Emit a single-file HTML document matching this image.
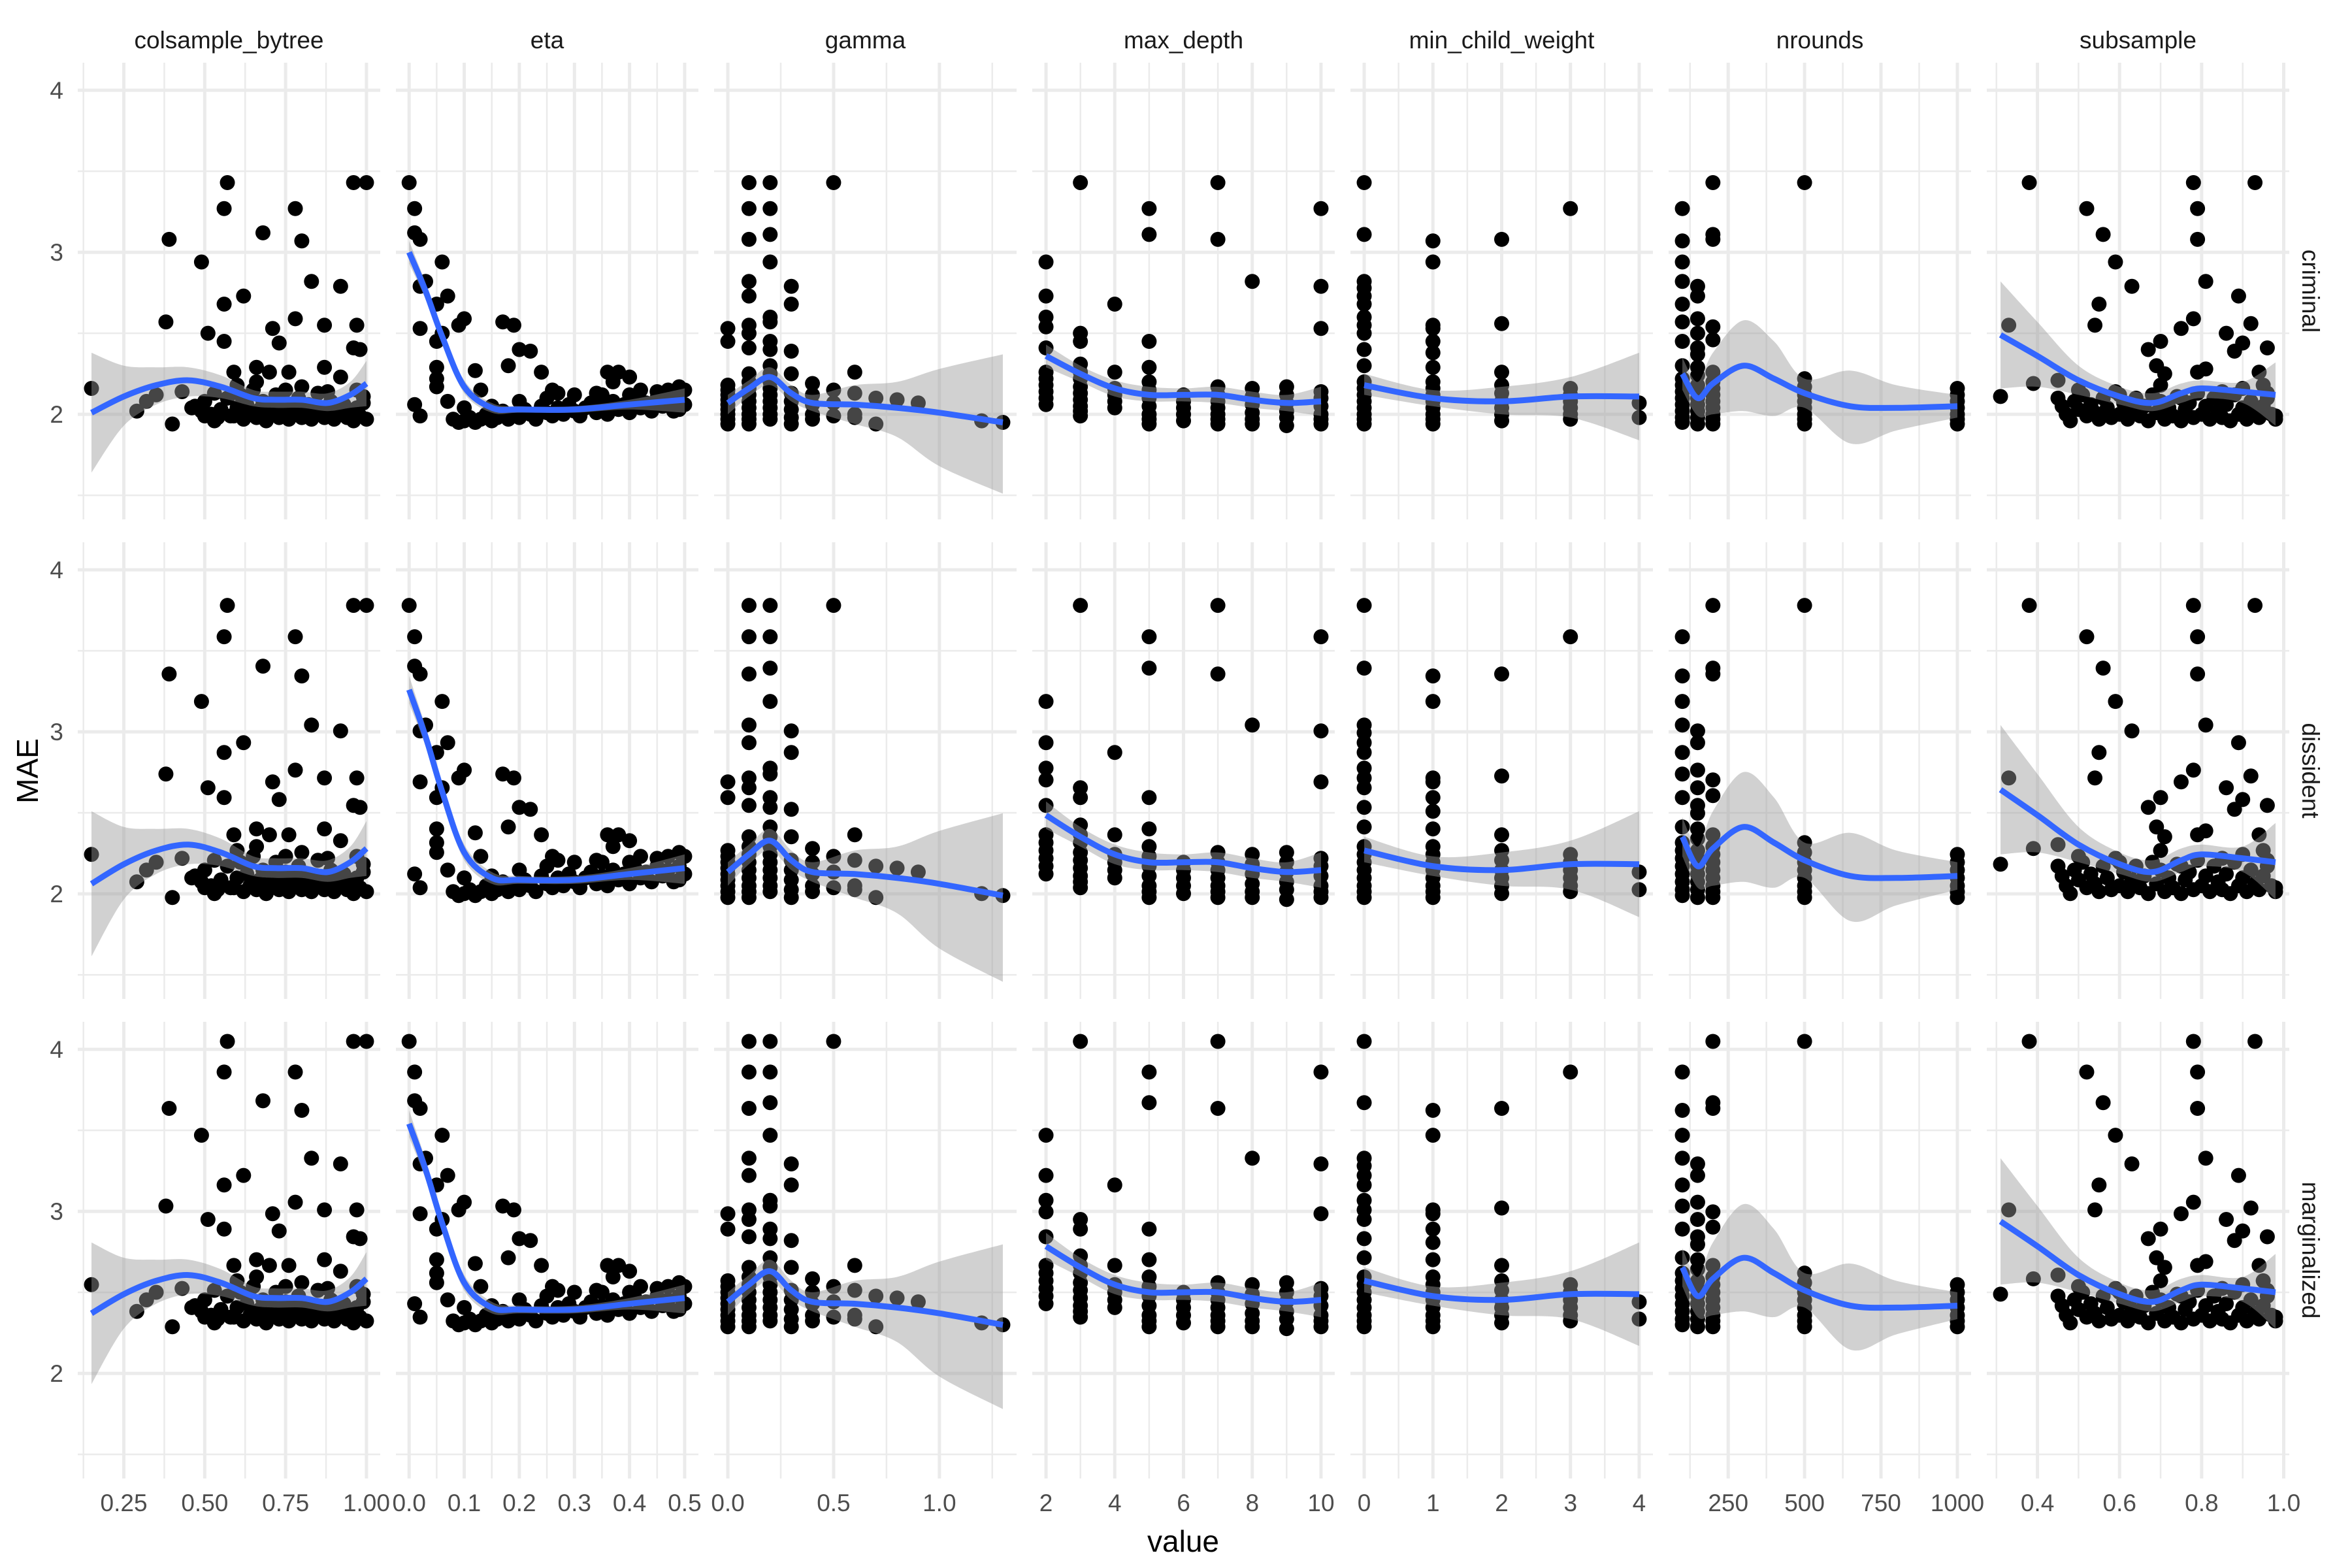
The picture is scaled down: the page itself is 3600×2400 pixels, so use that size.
<!DOCTYPE html>
<html><head><meta charset="utf-8"><style>
html,body{margin:0;padding:0;background:#fff}
svg{display:block}
text{font-family:"Liberation Sans",Arial,sans-serif}
</style></head><body>
<svg id="chart" width="3600" height="2400" viewBox="0 0 3600 2400" xmlns="http://www.w3.org/2000/svg">
<rect width="3600" height="2400" fill="#fff"/>
<g id="grid"></g><g id="pts"></g><g id="smooth"></g><g id="labels"></g>
<text x="1811" y="2375" font-size="46" text-anchor="middle" fill="#000">value</text>
<text x="0" y="0" font-size="46" text-anchor="middle" fill="#000" transform="translate(58,1180) rotate(-90)">MAE</text>
</svg>
<script>
const params = ["colsample_bytree","eta","gamma","max_depth","min_child_weight","nrounds","subsample"];
const rows = ["criminal","dissident","marginalized"];
const rowScale = [1, 1.21, 1.182];
const rowShift = [0, -0.37, -0.005];
const xDomains = [[0.15,1.0],[0.001,0.5],[0,1.3],[2,10],[0,4],[100,1000],[0.31,0.98]];
const majorTicks = [[0.25,0.5,0.75,1.0],[0,0.1,0.2,0.3,0.4,0.5],[0,0.5,1.0],[2,4,6,8,10],[0,1,2,3,4],[250,500,750,1000],[0.4,0.6,0.8,1.0]];
const tickLabels = [["0.25","0.50","0.75","1.00"],["0.0","0.1","0.2","0.3","0.4","0.5"],["0.0","0.5","1.0"],["2","4","6","8","10"],["0","1","2","3","4"],["250","500","750","1000"],["0.4","0.6","0.8","1.0"]];
const minorTicks = [[0.125,0.375,0.625,0.875],[0.05,0.15,0.25,0.35,0.45],[0.25,0.75,1.25],[3,5,7,9],[0.5,1.5,2.5,3.5],[125,375,625,875],[0.3,0.5,0.7,0.9]];
const yMajor = [2,3,4];
const yMinor = [1.5,2.5,3.5];

// scatter points (criminal-row MAE) per parameter
const ptsColsample = [[.15,2.16],[.39,3.08],[.38,2.57],[.29,2.02],[.32,2.08],[.35,2.12],[.40,1.94],[.43,2.14],[.49,2.94],[.51,2.5],[.46,2.04],[.5,1.99],[.53,1.96],[.56,3.27],[.57,3.43],[.56,2.68],[.56,2.45],[.62,2.73],[.59,2.26],[.59,1.99],[.66,2.29],[.68,3.12],[.71,2.53],[.73,2.44],[.70,2.26],[.76,2.26],[.78,2.59],[.78,3.27],[.80,3.07],[.83,2.82],[.87,2.55],[.87,2.29],[.92,2.79],[.92,2.23],[.96,3.43],[1.0,3.43],[.97,2.55],[.96,2.41],[.98,2.4],[.99,2.11],
[.47,2.05],[.49,2.02],[.5,2.08],[.52,2.0],[.54,1.98],[.55,2.03],[.57,2.1],[.58,1.99],[.6,2.04],[.61,2.12],[.62,1.97],[.63,2.06],[.64,2.0],[.65,2.15],[.66,1.98],[.67,2.03],[.68,2.08],[.69,1.96],[.7,2.01],[.71,2.05],[.72,2.12],[.73,1.98],[.74,2.02],[.75,2.07],[.76,1.97],[.77,2.0],[.78,2.04],[.79,2.1],[.8,1.98],[.81,2.02],[.82,2.06],[.83,1.97],[.84,2.0],[.85,2.13],[.86,2.04],[.87,1.98],[.88,2.01],[.89,2.08],[.9,1.97],[.91,2.03],[.92,2.0],[.93,2.06],[.94,1.98],[.95,2.02],[.96,1.96],[.97,2.04],[.98,1.99],[.99,2.07],[1.0,1.97],[.53,2.13],[.6,2.18],[.66,2.2],[.75,2.15],[.8,2.17],[.88,2.14],[.97,2.15]];
const ptsEta = [[0.0,3.43],[.01,3.27],[.01,3.12],[.02,3.08],[.06,2.94],[.03,2.82],[.02,2.79],[.07,2.73],[.05,2.68],[.1,2.59],[.09,2.55],[.02,2.53],[.06,2.5],[.05,2.45],[.05,2.29],[.05,2.22],[.05,2.17],[.01,2.06],[.02,1.99],[.07,2.08],[.12,2.27],[.17,2.57],[.19,2.55],[.18,2.3],[.2,2.4],[.22,2.39],[.24,2.26],[.36,2.26],[.38,2.26],[.37,2.2],[.4,2.23],[.42,2.15],[.26,2.15],[.27,2.13],[.34,2.13],[.49,2.17],[.47,2.15],[.49,2.03],[.1,2.04],[.13,2.15],
[.08,1.97],[.09,1.95],[.1,1.96],[.11,1.98],[.12,1.95],[.13,1.97],[.14,2.0],[.15,1.96],[.16,1.98],[.17,2.02],[.18,1.97],[.19,2.0],[.2,1.98],[.21,2.03],[.22,2.0],[.23,1.97],[.24,2.05],[.25,2.01],[.26,1.99],[.27,2.04],[.28,2.0],[.29,2.06],[.3,2.02],[.31,1.99],[.32,2.04],[.33,2.07],[.34,2.01],[.35,2.05],[.36,2.0],[.37,2.08],[.38,2.03],[.39,2.06],[.4,2.01],[.41,2.09],[.42,2.04],[.43,2.07],[.44,2.02],[.45,2.1],[.46,2.05],[.47,2.08],[.48,2.02],[.49,2.1],[.5,2.06],[.5,2.15],[.2,2.08],[.15,2.05],[.25,2.1],[.3,2.12],[.35,2.12],[.4,2.12],[.45,2.14]];
const ptsGamma = [[0,[2.53,2.45,2.18,2.15,2.12,2.09,2.06,2.03,2.0,1.97,1.94]],[0.1,[3.43,3.27,3.08,2.82,2.73,2.55,2.5,2.41,2.25,2.2,2.16,2.12,2.08,2.04,2.0,1.97,1.94]],[0.2,[3.43,3.27,3.11,2.94,2.6,2.57,2.45,2.4,2.3,2.25,2.2,2.16,2.12,2.08,2.04,2.0,1.97]],[0.3,[2.79,2.68,2.39,2.25,2.13,2.08,2.03,1.98,1.94]],[0.4,[2.19,2.12,2.06,2.0,1.97]],[0.5,[3.43,2.15,2.07,1.99]],[0.6,[2.26,2.13,2.0,1.98]],[0.7,[2.1,1.94]],[0.8,[2.09]],[0.9,[2.07]],[1.2,[1.96]],[1.3,[1.95]]];
const ptsMaxDepth = [[2,[2.94,2.73,2.6,2.54,2.41,2.26,2.22,2.18,2.14,2.1,2.06]],[3,[3.43,2.5,2.45,2.31,2.26,2.22,2.17,2.13,2.09,2.05,2.02,1.99]],[4,[2.68,2.26,2.16,2.12,2.08,2.04]],[5,[3.27,3.11,2.45,2.29,2.2,2.15,2.1,2.05,2.0,1.97,1.94]],[6,[2.12,2.08,2.04,2.0,1.96]],[7,[3.43,3.08,2.17,2.12,2.08,2.04,2.0,1.97,1.94]],[8,[2.82,2.16,2.11,2.06,2.01,1.97,1.94]],[9,[2.17,2.12,2.07,2.02,1.98,1.93]],[10,[3.27,2.79,2.53,2.14,2.1,2.05,2.0,1.97,1.94]]];
const ptsMinChild = [[0,[3.43,3.11,2.82,2.78,2.73,2.68,2.6,2.55,2.5,2.4,2.3,2.2,2.16,2.12,2.08,2.04,2.0,1.97,1.94]],[1,[3.07,2.94,2.55,2.53,2.45,2.38,2.29,2.2,2.16,2.12,2.08,2.04,2.0,1.97,1.94]],[2,[3.08,2.56,2.26,2.18,2.13,2.08,2.04,2.0,1.96]],[3,[3.27,2.16,2.12,2.08,2.04,2.0,1.97]],[4,[2.07,1.98]]];
const ptsNrounds = [[100,[3.27,3.07,2.94,2.82,2.68,2.57,2.45,2.3,2.22,2.18,2.14,2.1,2.06,2.02,1.98,1.95]],[150,[2.79,2.73,2.59,2.5,2.41,2.37,2.29,2.24,2.18,2.14,2.1,2.06,2.02,1.98,1.94]],[200,[3.43,3.11,3.08,2.54,2.46,2.26,2.2,2.16,2.12,2.08,2.04,2.0,1.97,1.94]],[500,[3.43,2.22,2.17,2.12,2.08,2.04,2.0,1.97,1.94]],[1000,[2.16,2.12,2.08,2.04,2.0,1.97,1.94]]];
const ptsSubsample = [[.31,2.11],[.33,2.55],[.38,3.43],[.39,2.19],[.45,2.21],[.52,3.27],[.56,3.11],[.59,2.94],[.63,2.79],[.55,2.68],[.54,2.55],[.67,2.4],[.70,2.45],[.69,2.3],[.71,2.25],[.75,2.53],[.78,3.43],[.79,3.27],[.79,3.08],[.78,2.59],[.81,2.82],[.79,2.26],[.81,2.28],[.86,2.5],[.89,2.73],[.92,2.56],[.9,2.44],[.88,2.39],[.93,3.43],[.96,2.41],[.94,2.26],[.98,1.99],
[.45,2.1],[.46,2.05],[.47,2.0],[.48,1.96],[.49,2.08],[.5,2.03],[.51,2.12],[.52,1.99],[.53,2.06],[.54,2.01],[.55,1.97],[.56,2.1],[.57,2.04],[.58,1.98],[.59,2.14],[.6,2.0],[.61,2.07],[.62,1.97],[.63,2.03],[.64,2.1],[.65,1.99],[.66,2.05],[.67,1.96],[.68,2.12],[.69,2.01],[.7,2.08],[.71,1.97],[.72,2.04],[.73,1.99],[.74,2.11],[.75,1.96],[.76,2.03],[.77,2.07],[.78,1.98],[.79,2.13],[.8,2.0],[.81,2.05],[.82,1.97],[.83,2.1],[.84,2.02],[.85,1.98],[.86,2.06],[.87,1.96],[.88,2.12],[.89,2.0],[.9,2.04],[.91,1.97],[.92,2.08],[.93,2.01],[.94,1.98],[.95,2.05],[.96,2.13],[.97,2.0],[.98,1.97],[.5,2.15],[.6,2.12],[.7,2.18],[.75,2.1],[.85,2.14],[.9,2.16],[.95,2.18],[.96,2.1]];

// smooth fits: [x, fit, lower, upper] (criminal row)
const fitColsample = [[.15,2.01,1.64,2.38],[.25,2.11,1.93,2.3],[.35,2.18,2.06,2.29],[.45,2.21,2.11,2.29],[.55,2.17,2.1,2.24],[.65,2.1,2.05,2.15],[.72,2.09,2.04,2.14],[.8,2.09,2.04,2.14],[.88,2.07,2.02,2.13],[.95,2.12,2.04,2.2],[1.0,2.19,2.05,2.33]];
const fitEta = [[0,3.0,2.93,3.07],[.03,2.76,2.71,2.81],[.06,2.48,2.44,2.52],[.1,2.17,2.13,2.21],[.15,2.04,2.01,2.07],[.2,2.03,2.01,2.05],[.3,2.03,2.01,2.05],[.4,2.06,2.03,2.09],[.5,2.09,2.01,2.16]];
const fitGamma = [[0,2.07,2.0,2.12],[.1,2.16,2.11,2.21],[.2,2.23,2.18,2.29],[.3,2.13,2.08,2.18],[.4,2.07,2.02,2.12],[.6,2.06,1.94,2.18],[.8,2.04,1.86,2.2],[1.0,2.01,1.68,2.28],[1.3,1.95,1.51,2.37]];
const fitMaxDepth = [[2,2.36,2.29,2.43],[3,2.25,2.2,2.3],[4,2.16,2.11,2.21],[5,2.12,2.08,2.17],[6,2.12,2.08,2.16],[7,2.12,2.07,2.17],[8,2.09,2.04,2.14],[9,2.07,2.02,2.12],[10,2.08,1.99,2.17]];
const fitMinChild = [[0,2.18,2.12,2.25],[1,2.1,2.05,2.15],[2,2.08,2.0,2.17],[3,2.11,1.98,2.23],[4,2.11,1.84,2.38]];
const fitNrounds = [[100,2.25,2.15,2.35],[150,2.1,1.99,2.2],[200,2.19,2.0,2.38],[300,2.3,2.02,2.58],[400,2.22,1.99,2.45],[500,2.13,2.04,2.22],[650,2.05,1.82,2.27],[800,2.04,1.9,2.18],[1000,2.05,1.98,2.12]];
const fitSubsample = [[.31,2.49,2.16,2.82],[.4,2.36,2.17,2.57],[.5,2.21,2.12,2.3],[.6,2.11,2.06,2.17],[.68,2.07,2.02,2.13],[.75,2.13,2.07,2.19],[.8,2.16,2.1,2.21],[.9,2.14,2.07,2.2],[.98,2.12,1.93,2.32]];

const allPts = [ptsColsample, ptsEta, ptsGamma, ptsMaxDepth, ptsMinChild, ptsNrounds, ptsSubsample];
const allFits = [fitColsample, fitEta, fitGamma, fitMaxDepth, fitMinChild, fitNrounds, fitSubsample];

const NS = "http://www.w3.org/2000/svg";
const PL = 119, PSTEP = 487, PW = 463;
const RT = [96, 830, 1564], PH = 699, YTOP = 4.17, YPX = 248;
function el(tag, attrs, parent){const e=document.createElementNS(NS,tag);for(const k in attrs)e.setAttribute(k,attrs[k]);parent.appendChild(e);return e;}
function xScale(p, v){const d=xDomains[p];const pad=(d[1]-d[0])*0.05;const lo=d[0]-pad,hi=d[1]+pad;return PL+p*PSTEP+(v-lo)/(hi-lo)*PW;}
function yScale(r, v){return RT[r]+(YTOP-v)*YPX;}
function rowVal(r, v){return rowShift[r]+rowScale[r]*v;}
function spline(pts){let d="";for(let i=0;i<pts.length-1;i++){const p0=pts[Math.max(0,i-1)],p1=pts[i],p2=pts[i+1],p3=pts[Math.min(pts.length-1,i+2)];
 const c1x=p1[0]+(p2[0]-p0[0])/6,c1y=p1[1]+(p2[1]-p0[1])/6,c2x=p2[0]-(p3[0]-p1[0])/6,c2y=p2[1]-(p3[1]-p1[1])/6;
 d+=(i===0?"M"+p1[0]+","+p1[1]:"")+" C"+c1x+","+c1y+" "+c2x+","+c2y+" "+p2[0]+","+p2[1];}return d;}

const gG=document.getElementById("grid"),gP=document.getElementById("pts"),gS=document.getElementById("smooth"),gL=document.getElementById("labels");
for(let p=0;p<params.length;p++){
  const left=PL+p*PSTEP;
  const st=el("text",{x:left+PW/2,y:74,"font-size":37,"text-anchor":"middle",fill:"#1A1A1A"},gL);
  st.textContent=params[p];
  
  
  majorTicks[p].forEach((t,i)=>{
    const x=xScale(p,t);
    const tl=el("text",{x:x,y:2313,"font-size":37,"text-anchor":"middle",fill:"#4D4D4D"},gL);
    tl.textContent=tickLabels[p][i];
    
    
  });
  for(let r=0;r<rows.length;r++){
    const top=RT[r];
    const panel=el("g",{},gG);
    
    
    minorTicks[p].forEach(t=>{const x=xScale(p,t);if(x>left&&x<left+PW)el("line",{x1:x,x2:x,y1:top,y2:top+PH,stroke:"#EBEBEB","stroke-width":2.5},panel);});
    yMinor.forEach(t=>{const y=yScale(r,t);el("line",{x1:left,x2:left+PW,y1:y,y2:y,stroke:"#EBEBEB","stroke-width":2.5},panel);});
    majorTicks[p].forEach(t=>{const x=xScale(p,t);el("line",{x1:x,x2:x,y1:top,y2:top+PH,stroke:"#EBEBEB","stroke-width":5},panel);});
    yMajor.forEach(t=>{const y=yScale(r,t);el("line",{x1:left,x2:left+PW,y1:y,y2:y,stroke:"#EBEBEB","stroke-width":5},panel);});
    // points
    const pg=el("g",{fill:"#000"},gP);
    
    
    allPts[p].forEach(d=>{
      if(Array.isArray(d[1])){d[1].forEach(v=>{el("circle",{cx:xScale(p,d[0]),cy:yScale(r,rowVal(r,v)),r:11.5},pg);});}
      else el("circle",{cx:xScale(p,d[0]),cy:yScale(r,rowVal(r,d[1])),r:11.5},pg);
    });
    // smooth
    const f=allFits[p];
    const up=f.map(d=>[xScale(p,d[0]),yScale(r,rowVal(r,d[3]))]);
    const lo=f.map(d=>[xScale(p,d[0]),yScale(r,rowVal(r,d[2]))]).reverse();
    const ln=f.map(d=>[xScale(p,d[0]),yScale(r,rowVal(r,d[1]))]);
    const rib=el("path",{d:spline(up)+" L"+lo[0][0]+","+lo[0][1]+spline(lo).replace(/^M[^ ]+/,"")+" Z",fill:"#999999","fill-opacity":0.45},gS);
    
    
    const line=el("path",{d:spline(ln),fill:"none",stroke:"#3366FF","stroke-width":9,"stroke-linecap":"butt"},gS);
    
    
  }
}
for(let r=0;r<rows.length;r++){
  yMajor.forEach(t=>{
    const yl=el("text",{x:97,y:yScale(r,t)+13,"font-size":37,"text-anchor":"end",fill:"#4D4D4D"},gL);
    yl.textContent=String(t);
    
    
  });
  const cy=RT[r]+PH/2;
  const rl=el("text",{x:0,y:0,"font-size":37,"text-anchor":"middle",fill:"#1A1A1A",transform:"translate(3524,"+cy+") rotate(90)"},gL);
  rl.textContent=rows[r];
  
  
}
</script>
</body></html>
